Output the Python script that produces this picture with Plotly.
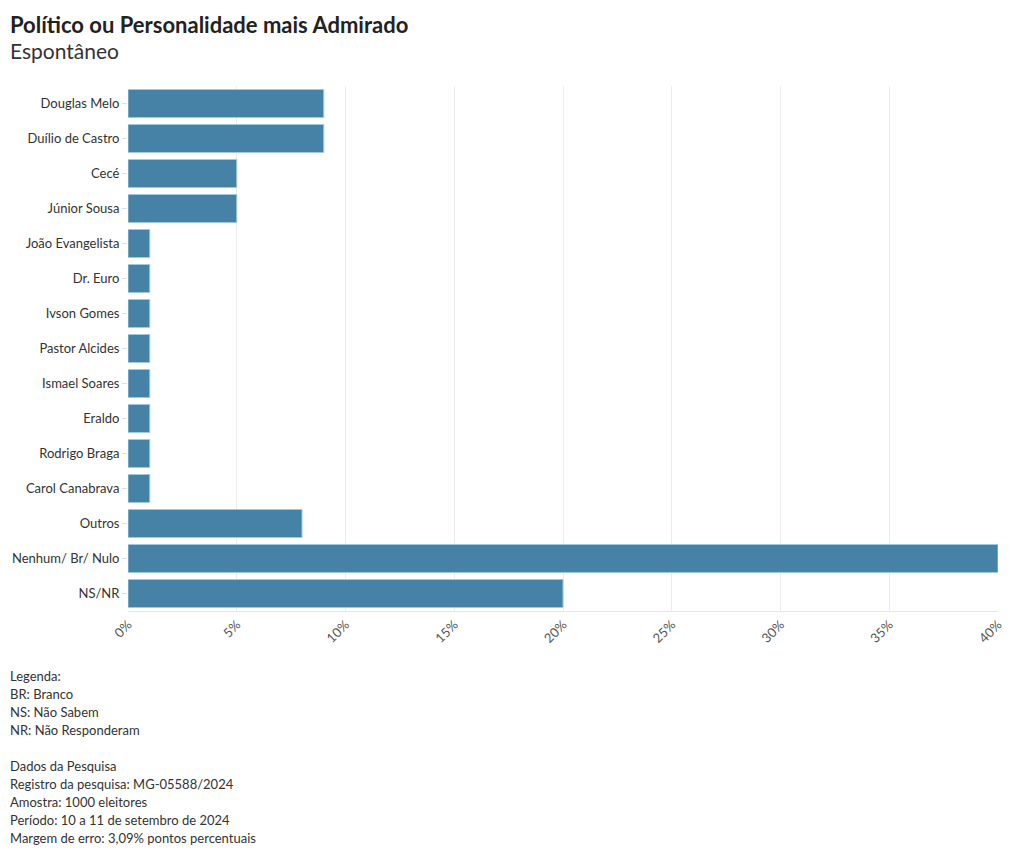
import plotly.graph_objects as go

categories = ["Douglas Melo", "Duílio de Castro", "Cecé", "Júnior Sousa", "João Evangelista",
              "Dr. Euro", "Ivson Gomes", "Pastor Alcides", "Ismael Soares", "Eraldo",
              "Rodrigo Braga", "Carol Canabrava", "Outros", "Nenhum/ Br/ Nulo", "NS/NR"]
values = [9, 9, 5, 5, 1, 1, 1, 1, 1, 1, 1, 1, 8, 40, 20]
tick_vals = [0, 5, 10, 15, 20, 25, 30, 35, 40]
tick_text = ["0%", "5%", "10%", "15%", "20%", "25%", "30%", "35%", "40%"]

title = "Político ou Personalidade mais Admirado"
subtitle = "Espontâneo"
notes = ["Legenda:", "BR: Branco", "NS: Não Sabem", "NR: Não Responderam", "",
         "Dados da Pesquisa", "Registro da pesquisa: MG-05588/2024", "Amostra: 1000 eleitores",
         "Período: 10 a 11 de setembro de 2024", "Margem de erro: 3,09% pontos percentuais"]

FONT = "Source Sans Pro, Lato, sans-serif"
W, H = 1012, 849
L, T, PW, PH = 120, 78, 870, 525

fig = go.Figure(go.Bar(
    x=values, y=categories, orientation="h",
    marker=dict(color="rgba(54,118,158,0.92)", line=dict(color="rgba(160,200,225,1)", width=1)),
    hoverinfo="x+y",
))

fig.update_layout(
    width=W, height=H,
    margin=dict(l=L, r=W - L - PW, t=T, b=H - T - PH),
    plot_bgcolor="white", paper_bgcolor="white",
    font=dict(family=FONT, size=13, color="#444"),
    bargap=0.2,
    showlegend=False,
    xaxis=dict(range=[0, 40], tickvals=tick_vals, ticktext=tick_text, tickangle=-45,
               showgrid=True, gridcolor="#ececec", zeroline=False, showline=True,
               linecolor="#e6e6e6", tickfont=dict(size=13, color="#555"), automargin=False),
    yaxis=dict(categoryorder="array", categoryarray=categories, autorange="reversed",
               showgrid=False, ticks="outside", ticklen=5, tickcolor="#e0e0e0",
               tickfont=dict(size=13, color="#333"), zeroline=False, automargin=False),
)

x0 = -L / PW
fig.add_annotation(text="<b>" + title + "</b>", xref="paper", yref="paper",
                   x=x0, y=1 + 62 / PH, xanchor="left", yanchor="middle",
                   showarrow=False, font=dict(family=FONT, size=22, color="#222"))
fig.add_annotation(text=subtitle, xref="paper", yref="paper",
                   x=x0, y=1 + 36 / PH, xanchor="left", yanchor="middle",
                   showarrow=False, font=dict(family=FONT, size=21, color="#333"))
for i, line in enumerate(notes):
    if not line:
        continue
    fig.add_annotation(text=line, xref="paper", yref="paper",
                       x=x0, y=-(65 + 18 * i) / PH, xanchor="left", yanchor="middle",
                       align="left", showarrow=False,
                       font=dict(family=FONT, size=13, color="#333"))

fig.write_html("out.html")
